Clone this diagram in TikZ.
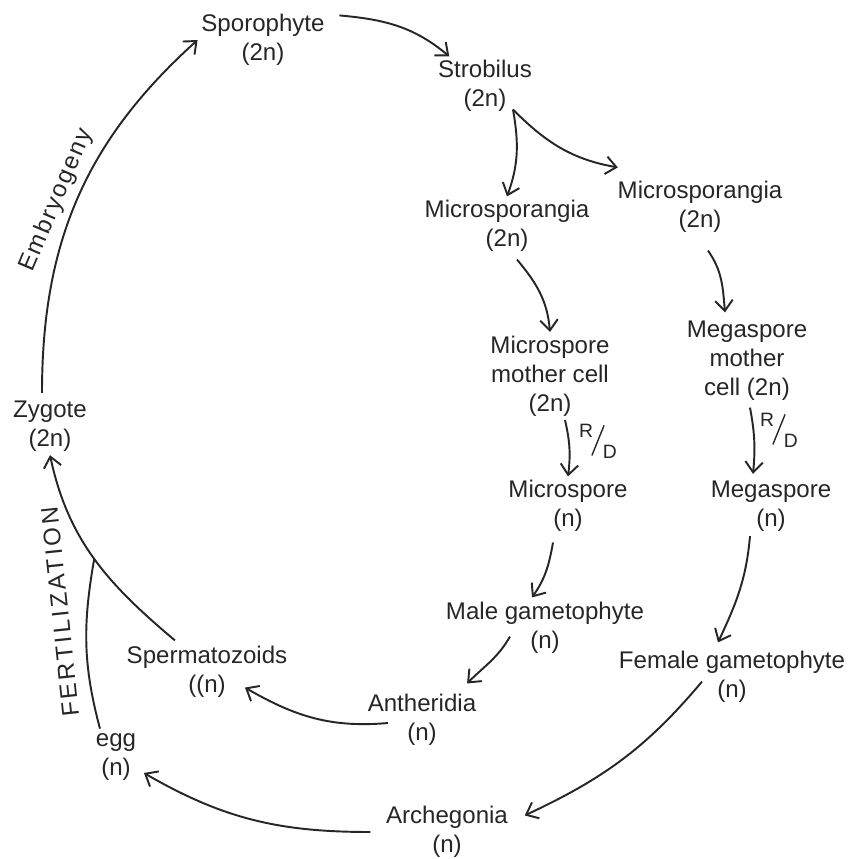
\documentclass[tikz,border=0pt]{standalone}
\usepackage{fontspec}
\setmainfont{Liberation Sans}
\usepackage{graphicx}
\usetikzlibrary{arrows.meta}

\definecolor{ink}{HTML}{262626}
\newcommand{\rdfrac}{\fontsize{11}{13}\selectfont\raisebox{6.5pt}{R}\kern-1.1pt\raisebox{-4.1pt}{\rotatebox{68}{\rule{0.65cm}{0.8pt}}}\kern-1.1pt\raisebox{-5.5pt}{D}}

\begin{document}
\begin{tikzpicture}[
    x=0.02cm, y=0.02cm,
    stage/.style={align=center, font=\fontsize{13.7}{16.5}\selectfont, text=ink, inner sep=2pt},
    lbl/.style={font=\fontsize{13.7}{16.5}\selectfont, text=ink},
    rd/.style={text=ink, inner sep=0pt},
    arr/.style={-{Straight Barb[length=6pt,width=10pt]}, line width=1.1pt, draw=ink},
    link/.style={line width=1.1pt, draw=ink}
]
\useasboundingbox (0,0) rectangle (850,-859);

\node[stage] (spor) at (263,-40) {Sporophyte\\(2n)};
\node[stage] (strob) at (485,-86) {Strobilus\\(2n)};
\node[stage] (msp1) at (507,-226) {Microsporangia\\(2n)};
\node[stage] (msp2) at (700,-207) {Microsporangia\\(2n)};
\node[stage] (mimc) at (550,-376) {Microspore\\mother cell\\(2n)};
\node[stage] (memc) at (747,-361) {Megaspore\\mother\\cell (2n)};
\node[stage] (mis) at (568,-506) {Microspore\\(n)};
\node[stage] (mes) at (771,-506) {Megaspore\\(n)};
\node[stage] (male) at (545,-628) {Male gametophyte\\(n)};
\node[stage] (fem) at (732,-677) {Female gametophyte\\(n)};
\node[stage] (anth) at (422,-720) {Antheridia\\(n)};
\node[stage] (sperm) at (207,-672) {Spermatozoids\\((n)};
\node[stage] (egg) at (116,-757) {egg\\(n)};
\node[stage] (arch) at (447,-832) {Archegonia\\(n)};
\node[stage] (zyg) at (50,-426) {Zygote\\(2n)};

\node[rd] (rd1) at (598,-441) {\rdfrac};
\node[rd] (rd2) at (779,-430) {\rdfrac};

\node[lbl, rotate=67] (embryo) at (57,-200) {\addfontfeatures{LetterSpace=8}Embryogeny};
\node[lbl, rotate=96] (fert) at (60,-612) {\addfontfeatures{LetterSpace=12}FERTILIZATION};

% sporophyte generation
\draw[arr] ([shift={(-8,4)}]zyg.north) to[out=90,in=222] (spor.west);
\draw[arr] ([shift={(11,-5)}]spor.north east) to[out=-5,in=140] ([shift={(15,0)}]strob.north west);
\draw[arr] ([shift={(28,6)}]strob.south) to[out=-80,in=70] (msp1.north);
\draw[arr] ([shift={(28,6)}]strob.south) to[out=-45,in=170] ([shift={(4,10)}]msp2.north west);
\draw[arr] ([shift={(10,-4)}]msp1.south) to[out=-50,in=95] (mimc.north);
\draw[arr] ([shift={(8,-14)}]msp2.south) to[out=-55,in=95] ([shift={(-22,5)}]memc.north);

% meiosis
\draw[arr] ([shift={(15,0)}]mimc.south) to[bend left=10] (mis.north);
\draw[arr] ([shift={(3,-3)}]memc.south) to[bend left=8] ([shift={(-18,3)}]mes.north);

% gametophyte generation
\draw[arr] ([shift={(-15,-7)}]mis.south) to[out=-100,in=55] ([shift={(-13,1)}]male.north);
\draw[arr] ([shift={(-21,-1)}]mes.south) to[out=-95,in=65] ([shift={(-14,5)}]fem.north);
\draw[arr] ([shift={(-35,21)}]male.south) to[out=-120,in=45] ([shift={(-13,7)}]anth.north east);
\draw[arr] ([shift={(-30,25)}]fem.south) to[out=-130,in=25] ([shift={(13,-13)}]arch.north east);
\draw[arr] ([shift={(24,-3)}]anth.west) to[out=185,in=-30] ([shift={(38,14)}]sperm.south);
\draw[arr] ([shift={(-12,0)}]arch.west) to[out=180,in=-30] ([shift={(4,-16)}]egg.east);

% fertilization
\draw[arr] ([shift={(-32,2)}]sperm.north) to[out=140,in=-78] coordinate[pos=0.5] (fuse) (zyg.south);
\draw[link] ([shift={(-16,1)}]egg.north) to[out=105,in=-100] (fuse);
\end{tikzpicture}
\end{document}
